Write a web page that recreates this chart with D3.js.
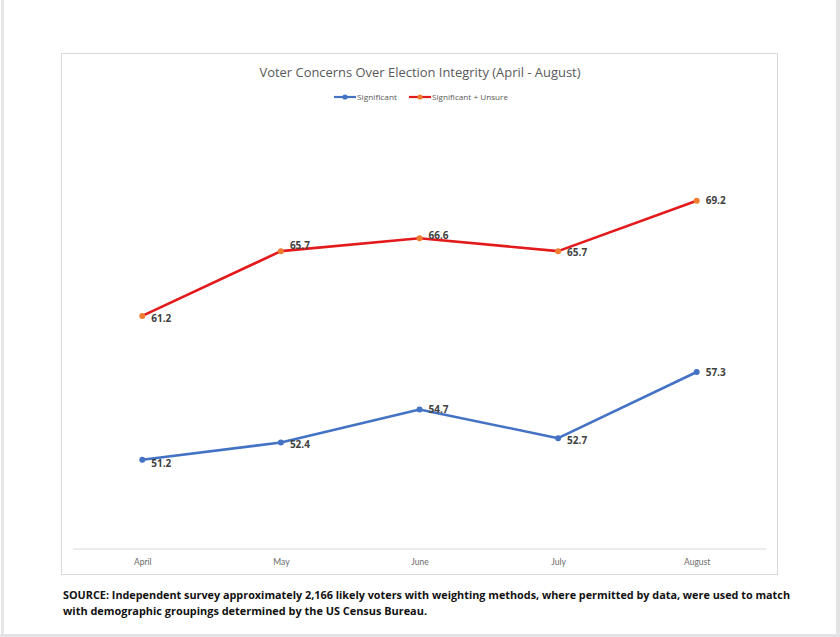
<!DOCTYPE html>
<html><head><meta charset="utf-8">
<script src="https://cdn.jsdelivr.net/npm/d3@7"></script>
<style>
html,body{margin:0;padding:0;background:#fff;}
svg{display:block;}
</style></head>
<body>
<script>
const months = ["April","May","June","July","August"];
const significant = [51.2,52.4,54.7,52.7,57.3];
const significantUnsure = [61.2,65.7,66.6,65.7,69.2];
const seriesNames = ["Significant","Significant + Unsure"];
const titleText = "Voter Concerns Over Election Integrity (April - August)";
const sourceLines = [
  "SOURCE: Independent survey approximately 2,166 likely voters with weighting methods, where permitted by data, were used to match",
  "with demographic groupings determined by the US Census Bureau."
];
// label vertical nudges (layout only)
const nudgeSig = [4,2,0,2,0];
const nudgeSU = [3,-6,-3,1,0];

const W=840,H=637;
const svg=d3.select("body").append("svg").attr("width",W).attr("height",H);
// page frame
svg.append("rect").attr("x",0).attr("y",0).attr("width",W).attr("height",H).attr("fill","#fff");
svg.append("rect").attr("x",1).attr("y",0).attr("width",3).attr("height",H).attr("fill","#e6e6e6");
svg.append("rect").attr("x",836).attr("y",0).attr("width",4).attr("height",H).attr("fill","#e3e3e6");
svg.append("rect").attr("x",0).attr("y",634).attr("width",W).attr("height",3).attr("fill","#e3e3e6");
// chart box
svg.append("rect").attr("x",61.5).attr("y",53.5).attr("width",716).attr("height",521)
  .attr("fill","#fff").attr("stroke","#d9d9d9").attr("stroke-width",1);

const x=d3.scalePoint().domain(months).range([73,766]).padding(0.5);
const y=d3.scaleLinear().domain([45,75]).range([549,117.3]);

// axis
const ax=svg.append("g").attr("transform","translate(0,549)")
  .call(d3.axisBottom(x).tickSize(0).tickPadding(10));
ax.select(".domain").attr("stroke","#d9d9d9").attr("stroke-width",1.2)
  .attr("d","M73,0H766");
ax.selectAll("text").attr("font-family","Lato, 'Open Sans', sans-serif").attr("font-size","8.5px").attr("fill","#6a6a6a");

// title
svg.append("text").attr("x",420).attr("y",77).attr("text-anchor","middle")
  .attr("font-family","'Open Sans', Lato, sans-serif").attr("font-size","13.5px").attr("fill","#595959")
  .attr("textLength",321).attr("lengthAdjust","spacingAndGlyphs").text(titleText);

// legend
const legendItems=[{name:seriesNames[0],line:"#4472C4",mk:"#4472C4",x0:334,tx:357,tl:40},
                   {name:seriesNames[1],line:"#E31A1C",mk:"#ED7D31",x0:409,tx:432,tl:76}];
legendItems.forEach(d=>{
  svg.append("line").attr("x1",d.x0).attr("x2",d.x0+22).attr("y1",97).attr("y2",97)
    .attr("stroke",d.line).attr("stroke-width",2.2);
  svg.append("circle").attr("cx",d.x0+11).attr("cy",97).attr("r",2.6).attr("fill",d.mk);
  svg.append("text").attr("x",d.tx).attr("y",100).attr("font-family","'Open Sans', Lato, sans-serif")
    .attr("font-size","8px").attr("fill","#595959").attr("textLength",d.tl).attr("lengthAdjust","spacingAndGlyphs").text(d.name);
});

const line=d3.line().x((d,i)=>x(months[i])).y(d=>y(d));
function drawSeries(vals,color,mk,nudge){
  svg.append("path").datum(vals).attr("d",line).attr("fill","none")
    .attr("stroke",color).attr("stroke-width",2.6).attr("stroke-linejoin","round");
  svg.selectAll(null).data(vals).enter().append("circle")
    .attr("cx",(d,i)=>x(months[i])).attr("cy",d=>y(d)).attr("r",3).attr("fill",mk);
  svg.selectAll(null).data(vals).enter().append("text")
    .attr("x",(d,i)=>x(months[i])+9).attr("y",(d,i)=>y(d)+nudge[i]+3.6)
    .attr("font-family","'Open Sans', Lato, sans-serif").attr("font-weight","bold")
    .attr("font-size","10px").attr("fill","#404040").text(d=>d.toFixed(1));
}
drawSeries(significantUnsure,"#E31A1C","#ED7D31",nudgeSU);
drawSeries(significant,"#4472C4","#4472C4",nudgeSig);

// source
const src=svg.append("g");
src.append("text").attr("x",63).attr("y",599).attr("font-family","'Liberation Sans Narrow', 'Open Sans', sans-serif")
  .attr("font-weight","bold").attr("font-size","11px").attr("fill","#111")
  .attr("textLength",727).attr("lengthAdjust","spacingAndGlyphs").text(sourceLines[0]);
src.append("text").attr("x",63).attr("y",615).attr("font-family","'Liberation Sans Narrow', 'Open Sans', sans-serif")
  .attr("font-weight","bold").attr("font-size","11px").attr("fill","#111")
  .attr("textLength",364).attr("lengthAdjust","spacingAndGlyphs").text(sourceLines[1]);
</script>
</body></html>
